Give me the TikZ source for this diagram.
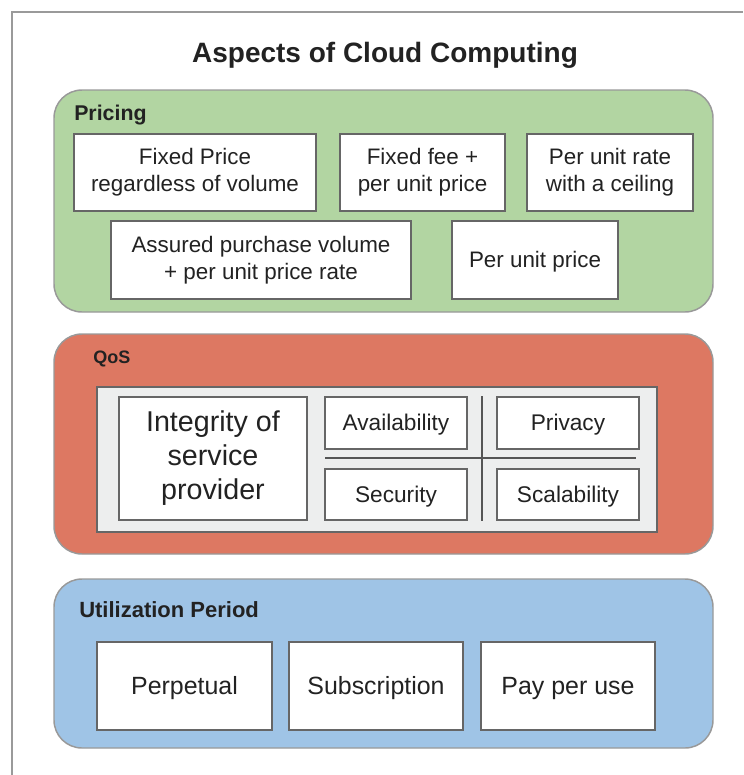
\documentclass[tikz,border=0pt]{standalone}
\usepackage{fontspec}
\setmainfont{Liberation Sans}
\usetikzlibrary{fit}

\definecolor{frameline}{HTML}{9A9A9A}
\definecolor{groupline}{HTML}{999999}
\definecolor{cellline}{HTML}{666666}
\definecolor{ink}{HTML}{222222}
\definecolor{pricingfill}{HTML}{B2D5A2}
\definecolor{qosfill}{HTML}{DD7862}
\definecolor{usefill}{HTML}{9FC4E6}
\definecolor{trayfill}{HTML}{EDEEEE}
\definecolor{divider}{HTML}{555555}

\newcommand{\fsz}[2]{\fontsize{#1pt}{#2pt}\selectfont}

\begin{document}
\begin{tikzpicture}[x=0.75pt, y=-0.75pt,
  group/.style={draw=groupline, line width=1.1pt, rounded corners=21pt, inner sep=0pt},
  cell/.style={draw=cellline, fill=white, line width=1pt, inner sep=0pt, align=center, text=ink},
  % single-line cells: a line box like a text editor's, so caps sit centred
  oneline/.style={font=\fsz{#1}{#1}, text height=#1pt*0.9, text depth=#1pt*0.22},
  size/.style 2 args={minimum width=#1*0.75pt, minimum height=#2*0.75pt},
  tray/.style={draw=cellline, fill=trayfill, line width=1pt, inner sep=0pt},
  heading/.style={text=ink, inner sep=0pt, anchor=base west},
  rule/.style={draw=divider, line width=2.2pt}]

\useasboundingbox (0,0) rectangle (743,775);

% page frame, open to the right and bottom
\coordinate (fb) at (12,775);
\coordinate (fc) at (12,12);
\coordinate (fr) at (743,12);
\draw[frameline, line width=1.6pt] (fb) -- (fc) -- (fr);

% title
\node[text=ink, inner sep=0pt, anchor=base, font=\bfseries\fsz{21}{25}] (title) at (385,62) {Aspects of Cloud Computing};

% ---------- Pricing ----------
\node[group, fill=pricingfill, fit={(54,90) (713,312)}] (pricing) {};
\node[heading, font=\bfseries\fsz{16}{19}] (pricinglbl) at (74,120) {Pricing};
\node[cell, size={242}{77}, font=\fsz{16.8}{20.5}] (fixedprice) at (195,172.5) {Fixed Price\\regardless of volume};
\node[cell, size={165}{77}, font=\fsz{16.8}{20.5}] (fixedfee) at (422.5,172.5) {Fixed fee +\\per unit price};
\node[cell, size={166}{77}, font=\fsz{16.8}{20.5}] (ceiling) at (610,172.5) {Per unit rate\\with a ceiling};
\node[cell, size={300}{78}, font=\fsz{16.8}{20.5}] (assured) at (261,260) {Assured purchase volume\\+ per unit price rate};
\node[cell, oneline=16.8, size={166}{78}] (perunit) at (535,260) {Per unit price};

% ---------- QoS ----------
\node[group, fill=qosfill, fit={(54,334) (713,554)}] (qos) {};
\node[heading, font=\bfseries\fsz{13.5}{16}] (qoslbl) at (93,363) {QoS};
\node[tray, fit={(97,387) (657,532)}] (tray) {};
\node[cell, size={188}{123}, font=\fsz{21.5}{25.5}] (integrity) at (213,458.5) {Integrity of\\service\\provider};
\node[cell, oneline=17, size={142}{52}] (avail) at (396,423) {Availability};
\node[cell, oneline=17, size={142}{52}] (privacy) at (568,423) {Privacy};
\node[cell, oneline=17, size={142}{51}] (security) at (396,494.5) {Security};
\node[cell, oneline=17, size={142}{51}] (scal) at (568,494.5) {Scalability};
\coordinate (hl) at (325,458);
\coordinate (hr) at (636,458);
\coordinate (vt) at (482,396);
\coordinate (vb) at (482,521);
\draw[rule] (hl) -- (hr);
\draw[rule] (vt) -- (vb);

% ---------- Utilization Period ----------
\node[group, fill=usefill, fit={(54,579) (713,748)}] (usage) {};
\node[heading, font=\bfseries\fsz{16.5}{19}] (usagelbl) at (79,617) {Utilization Period};
\node[cell, oneline=18.7, size={175}{88}] (perpetual) at (184.5,686) {Perpetual};
\node[cell, oneline=18.7, size={174}{88}] (subscription) at (376,686) {Subscription};
\node[cell, oneline=18.7, size={174}{88}] (payperuse) at (568,686) {Pay per use};

\end{tikzpicture}
\end{document}
